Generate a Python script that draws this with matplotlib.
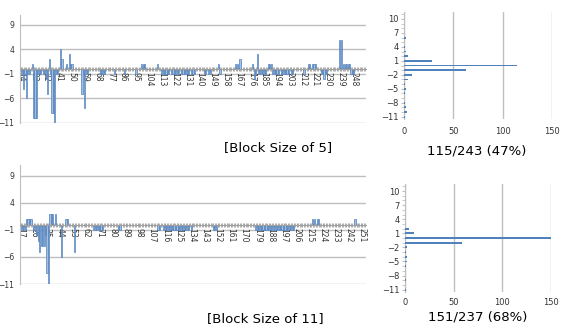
import matplotlib
matplotlib.use('Agg')
import matplotlib.pyplot as plt
import numpy as np

# Block size 5: one value per category, categories start at 14
start_5 = 14
diff_5 = [
    -1, -1, -4, -1, -6, -1, -1, 0, 1, -10,      # 14-23
    -10, -10, -1, -1, -1, 0, -1, -1, -2, -5,    # 24-33
    2, -1, -9, -9, -11, -1, -1, 0, 4, 2,        # 34-43
    0, 0, 1, 0, 3, 1, 1, 0, 0, 0,               # 44-53
    0, 0, 0, -5, -1, -8, -1, -1, 0, 0,          # 54-63
    0, 0, 0, 0, 0, 0, -1, -1, -1, -1,           # 64-73
    0, 0, 0, 0, 0, 0, -1, 0, 0, 0,              # 74-83
    0, 0, 0, -1, 0, 0, 0, 0, 0, 0,              # 84-93
    0, -1, 0, 0, 0, 1, 1, 1, 0, 0,              # 94-103
    0, 0, 0, 0, 0, 0, 1, 0, 0, -1,              # 104-113
    -1, -1, -1, -1, -1, 0, -1, -1, -1, -1,      # 114-123
    -1, -1, 0, -1, -1, -1, -1, -1, -1, 0,       # 124-133
    -1, -1, -1, 0, 0, 0, 0, 0, 0, -1,           # 134-143
    -1, 0, -1, -1, 0, 0, 0, 0, 0, 1,            # 144-153
    -1, 0, 0, 0, 0, 0, 0, 0, 0, 0,              # 154-163
    0, 1, 1, 0, 2, 0, 0, 0, 0, 0,               # 164-173
    0, 0, 0, 1, -2, -1, 3, -1, -1, -1,          # 174-183
    -1, -1, -1, 0, 1, 1, 1, -1, -1, -1,         # 184-193
    -1, -1, 0, -1, -1, -1, -1, -1, -1, 0,       # 194-203
    -1, -1, 0, 0, 0, 0, 0, 0, 0, -1,            # 204-213
    0, 0, 1, 1, 0, 1, 1, 1, 0, 0,               # 214-223
    0, -1, -1, -2, -1, -1, 0, 0, 0, 0,          # 224-233
    0, 0, 0, 0, 6, 6, 0, 1, 1, 1,               # 234-243
    1, 1, -1, -1, -1, 0, 0, 0, 0, 0,            # 244-253
    0, 0, 0,                                    # 254-256
]

# Block size 11: categories start at 17
start_11 = 17
diff_11 = [
    -1, -1, -1, -1, 1, 1, 1, 1, 0, -1,          # 17-26
    -1, -2, -3, -5, -4, -4, -4, -2, -9, -11,    # 27-36
    2, 2, 2, 0, 2, 0, 0, 0, -6, 0,              # 37-46
    0, 1, 1, 0, 0, 0, 0, -5, 0, 0,              # 47-56
    0, 0, 0, 0, 0, 0, 0, 0, 0, 0,               # 57-66
    -1, -1, -1, -1, -1, -1, -1, 0, 0, 0,        # 67-76
    0, 0, 0, 0, 0, 0, 0, -1, -1, 0,             # 77-86
    0, 0, 0, 0, 0, 0, 0, 0, 0, 0,               # 87-96
    0, 0, 0, 0, 0, 0, 0, 0, 0, 0,               # 97-106
    0, 0, 0, 0, -1, -1, 0, 0, -1, -1,           # 107-116
    -1, -1, -1, -1, -1, -1, -1, -1, -1, -1,     # 117-126
    -1, -1, -1, -1, -1, -1, 0, -1, 0, 0,        # 127-136
    0, 0, 0, 0, 0, 0, 0, 0, 0, 0,               # 137-146
    0, 0, -1, -1, -1, 0, 0, 0, 0, 0,            # 147-156
    0, 0, 0, 0, 0, 0, 0, 0, 0, 0,               # 157-166
    0, 0, 0, 0, 0, 0, 0, 0, 0, 0,               # 167-176
    0, -1, -1, -1, -1, -1, -1, -1, -1, -1,      # 177-186
    -1, -1, -1, -1, -1, -1, -1, -1, -1, -1,     # 187-196
    -1, -1, -1, -1, -1, -1, -1, -1, 0, 0,       # 197-206
    0, 0, 0, 0, 0, 0, 0, 0, 0, 0,               # 207-216
    1, 1, 0, 1, 1, 0, 0, 0, 0, 0,               # 217-226
    0, 0, 0, 0, 0, 0, 0, 0, 0, 0,               # 227-236
    0, 0, 0, 0, 0, 0, 0, 0, 0, 1,               # 237-246
    0, 0, 0, 0, 0, 0, 0,                        # 247-253
]

# Frequency of each difference value (-11 .. 11)
hist_values = list(range(-11, 12))
hist_5 = [1, 3, 2, 1, 0, 1, 2, 1, 4, 8, 63, 115, 28, 4, 2, 1, 0, 2, 0, 0, 0, 0, 0]
hist_11 = [1, 0, 1, 0, 0, 1, 2, 2, 1, 2, 59, 151, 9, 4, 0, 0, 0, 0, 0, 0, 0, 0, 0]

block_labels = ['[Block Size of 5]', '[Block Size of 11]']
ratio_labels = ['115/243 (47%)', '151/237 (68%)']

bar_fill = '#A7BFDE'
bar_edge = '#4F81BD'
hist_color = '#4F81BD'
grid_color = '#BFBFBF'
W, H = 564, 326


def px_axes(fig, left, top, right, bottom):
    return fig.add_axes([left / W, 1 - bottom / H, (right - left) / W, (bottom - top) / H])


def draw_series(ax, start, values):
    x = np.arange(start, start + len(values))
    yticks = [-11, -6, -1, 4, 9]
    for t in yticks:
        ax.axhline(t, color=grid_color, linewidth=1, zorder=1)
    ax.bar(x, values, width=0.8, color=bar_fill, edgecolor=bar_edge, linewidth=0.5, zorder=2)
    ax.set_xlim(start - 0.5, x[-1] + 0.5)
    ax.set_ylim(-11, 11)
    ax.set_yticks(yticks)
    for s in ['top', 'right']:
        ax.spines[s].set_visible(False)
    ax.spines['left'].set_color(grid_color)
    ax.spines['bottom'].set_position(('data', 0))
    ax.spines['bottom'].set_color('#A0A0A0')
    ax.set_xticks(x[::9])
    ax.set_xticklabels([str(v) for v in x[::9]], rotation=-90)
    ax.set_xticks(x, minor=True)
    ax.tick_params(axis='x', which='both', direction='inout', length=3, color='#A0A0A0',
                   labelsize=5.5, pad=1, labelcolor='#333333')
    ax.tick_params(axis='y', length=0, labelsize=5.5, pad=4, labelcolor='#333333')


def draw_hist(ax, counts, xpad):
    ax.barh(hist_values, counts, height=0.4, color=hist_color, zorder=3)
    ax.set_xlim(0, 150)
    ax.set_ylim(-11.5, 11.5)
    ax.set_xticks([0, 50, 100, 150])
    ax.set_yticks(hist_values[::3])
    ax.set_yticks(hist_values, minor=True)
    ax.xaxis.grid(True, color=grid_color, linewidth=1)
    ax.set_axisbelow(True)
    for s in ['top', 'right', 'bottom']:
        ax.spines[s].set_visible(False)
    ax.spines['left'].set_color(grid_color)
    ax.tick_params(axis='y', which='both', direction='out', length=2, color=grid_color,
                   labelsize=6, pad=2, labelcolor='#333333')
    ax.tick_params(axis='x', length=0, labelsize=6, pad=xpad, labelcolor='#333333')


fig = plt.figure(figsize=(W / 100, H / 100), dpi=100)

ax1 = px_axes(fig, 20, 15, 366, 123)
draw_series(ax1, start_5, diff_5)
ax2 = px_axes(fig, 404, 12, 552, 119)
draw_hist(ax2, hist_5, 5.5)

ax3 = px_axes(fig, 20, 165, 366, 284)
draw_series(ax3, start_11, diff_11)
ax4 = px_axes(fig, 405, 184, 551, 292)
draw_hist(ax4, hist_11, 4)

fig.text(278 / W, 1 - 148 / H, block_labels[0], ha='center', va='center', fontsize=9.5)
fig.text(477 / W, 1 - 151 / H, ratio_labels[0], ha='center', va='center', fontsize=9.5)
fig.text(265 / W, 1 - 319 / H, block_labels[1], ha='center', va='center', fontsize=9.5)
fig.text(478 / W, 1 - 317 / H, ratio_labels[1], ha='center', va='center', fontsize=9.5)

fig.savefig('out.png', dpi=100)
